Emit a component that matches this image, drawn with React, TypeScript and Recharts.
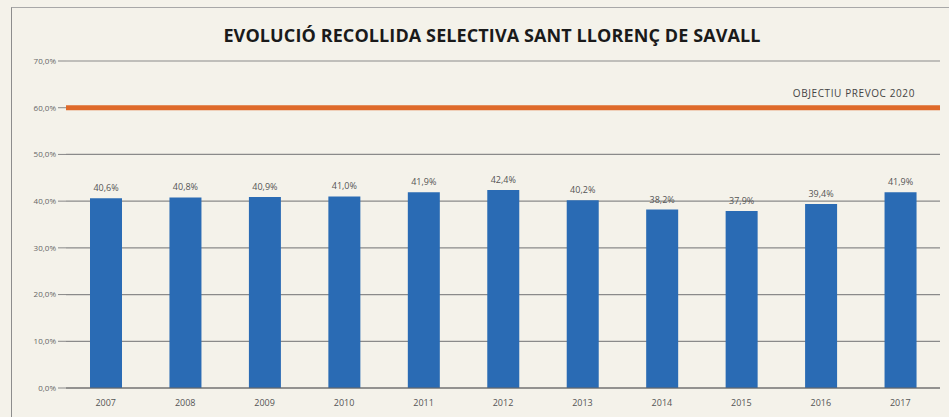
import { Bar, BarChart, CartesianGrid, LabelList, ReferenceLine, XAxis, YAxis } from 'recharts';

const years = ['2007', '2008', '2009', '2010', '2011', '2012', '2013', '2014', '2015', '2016', '2017'];
const recollida = [40.6, 40.8, 40.9, 41.0, 41.9, 42.4, 40.2, 38.2, 37.9, 39.4, 41.9];
const yTicks = [0, 10, 20, 30, 40, 50, 60, 70];
const objectiu = 60;

const data = years.map((year, i) => ({ year, value: recollida[i] }));

const pct = (v: number) => `${v.toFixed(1).replace('.', ',')}%`;

export default function App() {
  return (
    <div style={{ position: 'relative', width: 949, height: 417, background: '#f4f2ea', fontFamily: 'Open Sans' }}>
      <style>{'body{margin:0}'}</style>
      <div
        style={{
          position: 'absolute',
          left: 11,
          top: 7,
          right: 0,
          bottom: 0,
          borderLeft: '1px solid #8d8d8d',
          borderTop: '1px solid #a8a8a8',
        }}
      />
      <div
        style={{
          position: 'absolute',
          top: 23,
          left: 0,
          width: 984,
          textAlign: 'center',
          fontSize: 18,
          fontWeight: 700,
          color: '#1a1a1a',
          letterSpacing: 0.1,
        }}
      >
        EVOLUCIÓ RECOLLIDA SELECTIVA SANT LLORENÇ DE SAVALL
      </div>
      <BarChart
        width={949}
        height={417}
        data={data}
        margin={{ top: 61, right: 9, left: 0, bottom: 4 }}
        style={{ position: 'absolute', left: 0, top: 0 }}
      >
        <CartesianGrid vertical={false} stroke="#8a8a8a" strokeWidth={1.2} />
        <XAxis
          dataKey="year"
          height={25}
          tick={{ fontSize: 9, fill: '#555' }}
          tickLine={false}
          axisLine={{ stroke: '#666' }}
          tickMargin={6}
        />
        <YAxis
          width={66}
          domain={[0, 70]}
          ticks={yTicks}
          tickFormatter={pct}
          tick={{ fontSize: 8, fill: '#666' }}
          axisLine={false}
          tickLine={{ stroke: '#888' }}
          tickSize={8}
          tickMargin={2}
        />
        <Bar dataKey="value" fill="#2a6bb4" barSize={32} isAnimationActive={false}>
          <LabelList dataKey="value" position="top" formatter={(v: any) => pct(Number(v))} style={{ fontSize: 9, fill: '#555' }} offset={7} />
        </Bar>
        <ReferenceLine
          y={objectiu}
          stroke="#df6a2a"
          strokeWidth={5}
          label={{ value: 'OBJECTIU PREVOC 2020', position: 'insideBottomRight', fontSize: 10, fill: '#444', offset: 11, dx: -14, letterSpacing: 0.6 }}
        />
      </BarChart>
    </div>
  );
}
